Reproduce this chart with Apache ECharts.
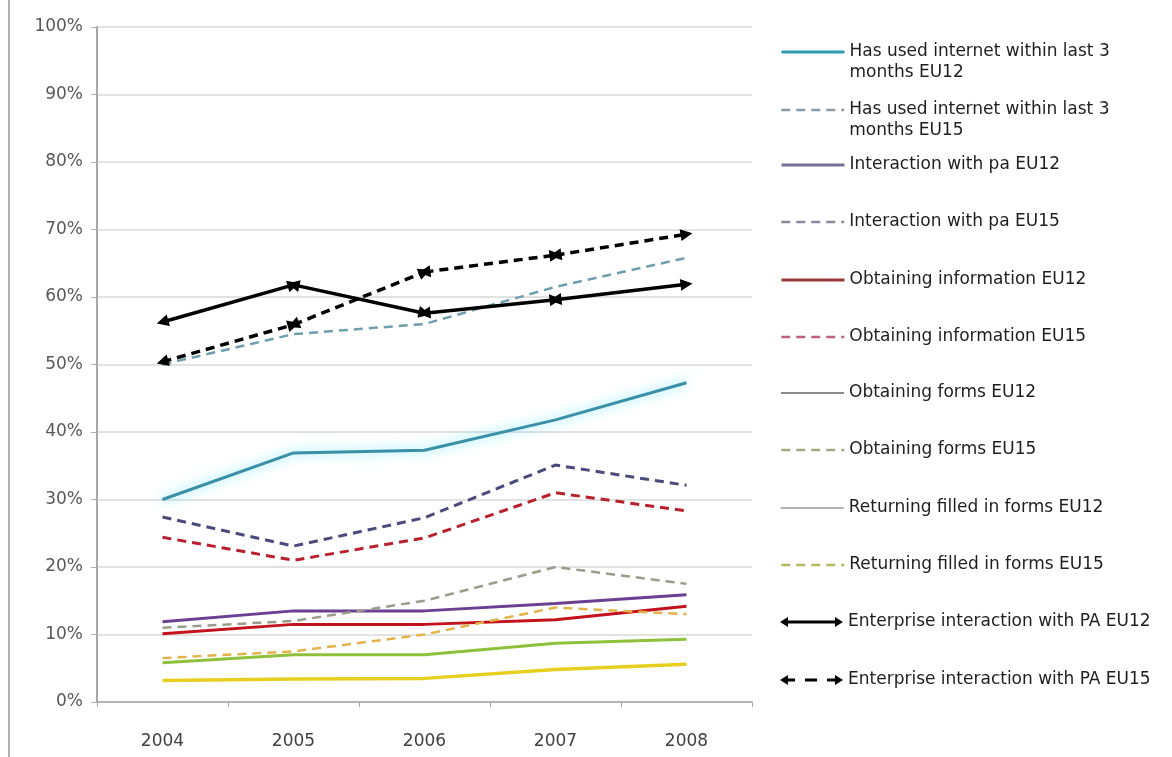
<!DOCTYPE html>
<html>
<head>
<meta charset="utf-8">
<script src="https://cdn.jsdelivr.net/npm/echarts@6/dist/echarts.min.js"></script>
<style>
  html, body { margin: 0; padding: 0; background: #fff; }
  #chart { width: 1172px; height: 757px; }
</style>
</head>
<body>
<div id="chart"></div>
<script>
// Categories and tick labels
const years = ['2004', '2005', '2006', '2007', '2008'];
const yTicks = [0, 10, 20, 30, 40, 50, 60, 70, 80, 90, 100];

// Shares of individuals / enterprises (%)
const internetEU12 = [30.0, 36.9, 37.3, 41.8, 47.3];
const internetEU15 = [50.0, 54.5, 56.0, 61.5, 65.8];
const paEU12 = [11.9, 13.5, 13.5, 14.6, 15.9];
const paEU15 = [27.4, 23.1, 27.3, 35.1, 32.1];
const infoEU12 = [10.1, 11.5, 11.5, 12.2, 14.2];
const infoEU15 = [24.4, 21.0, 24.3, 31.0, 28.3];
const formsEU12 = [5.8, 7.0, 7.0, 8.7, 9.3];
const formsEU15 = [11.0, 12.0, 15.0, 20.0, 17.5];
const returnEU12 = [3.2, 3.4, 3.5, 4.8, 5.6];
const returnEU15 = [6.5, 7.5, 10.0, 14.0, 13.0];
const enterpriseEU12 = [56.3, 61.8, 57.6, 59.6, 61.9];
const enterpriseEU15 = [50.4, 55.9, 63.7, 66.2, 69.3];

const names = [
  'Has used internet within last 3 months EU12',
  'Has used internet within last 3 months EU15',
  'Interaction with pa EU12',
  'Interaction with pa EU15',
  'Obtaining information EU12',
  'Obtaining information EU15',
  'Obtaining forms EU12',
  'Obtaining forms EU15',
  'Returning filled in forms EU12',
  'Returning filled in forms EU15',
  'Enterprise interaction with PA EU12',
  'Enterprise interaction with PA EU15'
];

const dash = [9, 6];

function lineSeries(name, data, color, type, width, glow) {
  const ls = { color: color, width: width, type: type };
  if (glow) { ls.shadowColor = glow; ls.shadowBlur = 12; }
  return {
    name: name, type: 'line', data: data, symbol: 'none',
    itemStyle: { color: color }, lineStyle: ls, z: 2
  };
}

// Each segment of the enterprise series carries an arrowhead at both ends
function arrowSeries(name, data, type) {
  const segs = [];
  for (let i = 0; i < data.length - 1; i++) {
    segs.push({ coords: [[years[i], data[i]], [years[i + 1], data[i + 1]]] });
  }
  return {
    name: name, type: 'lines', coordinateSystem: 'cartesian2d',
    data: segs, symbol: ['triangle', 'triangle'], symbolSize: 12,
    itemStyle: { color: '#000' },
    lineStyle: { color: '#000', width: 3.5, type: type, opacity: 1, curveness: 0 },
    z: 4
  };
}

const series = [
  lineSeries(names[0], internetEU12, '#3b8fa6', 'solid', 3, 'rgba(0,215,255,0.6)'),
  lineSeries(names[1], internetEU15, '#6f9fae', dash, 2.5),
  lineSeries(names[2], paEU12, '#6b3f92', 'solid', 3),
  lineSeries(names[3], paEU15, '#4b4a7c', dash, 3),
  lineSeries(names[4], infoEU12, '#c3121c', 'solid', 3),
  lineSeries(names[5], infoEU15, '#b8202c', dash, 3),
  lineSeries(names[6], formsEU12, '#8dc13a', 'solid', 3),
  lineSeries(names[7], formsEU15, '#9c9c8a', dash, 2.5),
  lineSeries(names[8], returnEU12, '#e6cf1e', 'solid', 3.5),
  lineSeries(names[9], returnEU15, '#e3b24a', dash, 2.5),
  arrowSeries(names[10], enterpriseEU12, 'solid'),
  arrowSeries(names[11], enterpriseEU15, dash)
];

// Legend: one row per series, rows placed down the right side
const legendRows = [52, 110, 165, 222, 280, 337, 393, 450, 508, 565, 622, 680];
const legendIconColors = ['#2e9bb0', '#8a9aa2', '#7a6e98', '#8a8a9c', '#9a3a3a', '#c0607a',
                          '#8c8c8c', '#a8a880', '#9a9a9a', '#b8b860', '#000', '#000'];
const legendIconWidths = [3, 2.5, 3, 2.5, 3, 2.5, 2, 2.5, 1.5, 2.5];
const arrowIconSolid = 'path://M0,5L8,0L8,3.4L55,3.4L55,0L63,5L55,10L55,6.6L8,6.6L8,10Z';
const arrowIconDashed = 'path://M0,5L8,0L8,3.4L15,3.4L15,6.6L8,6.6L8,10Z' +
  'M25,3.4L37,3.4L37,6.6L25,6.6Z' +
  'M47,3.4L55,3.4L55,0L63,5L55,10L55,6.6L47,6.6Z';

const legends = names.map((name, i) => {
  const twoLine = i < 2;
  const item = { name: name };
  if (i >= 10) {
    item.icon = i === 10 ? arrowIconSolid : arrowIconDashed;
    item.itemStyle = { color: '#000', borderWidth: 0 };
  } else {
    item.lineStyle = { color: legendIconColors[i], width: legendIconWidths[i] };
    item.itemStyle = { opacity: 0 };
  }
  return {
    data: [item],
    orient: 'vertical',
    left: 780,
    top: legendRows[i] - (twoLine ? 31.5 : 10.5),
    padding: 0,
    itemWidth: 63,
    itemHeight: i >= 10 ? 10 : 14,
    itemGap: 0,
    selectedMode: false,
    // wrapped names start with a blank line so the icon sits beside the first text line
    formatter: n => (n.indexOf('last 3 months') >= 0
      ? '\n' + n.replace('last 3 months', 'last 3\nmonths') : n),
    textStyle: {
      fontFamily: 'DejaVu Sans', fontSize: 17, color: '#1e1e1e', lineHeight: 21
    }
  };
});

const chart = echarts.init(document.getElementById('chart'), null, { renderer: 'canvas' });
chart.setOption({
  animation: false,
  backgroundColor: '#ffffff',
  grid: { left: 97, right: 420, top: 27, bottom: 55, containLabel: false },
  xAxis: {
    type: 'category', data: years, boundaryGap: true,
    axisLine: { show: true, lineStyle: { color: '#a6a6a6', width: 1.5 } },
    axisTick: { show: true, length: 5, lineStyle: { color: '#a6a6a6' } },
    axisLabel: { margin: 31, fontFamily: 'DejaVu Sans', fontSize: 17, color: '#404040' },
    splitLine: { show: false }
  },
  yAxis: {
    type: 'value', min: yTicks[0], max: yTicks[yTicks.length - 1], interval: 10,
    axisLine: { show: true, lineStyle: { color: '#a6a6a6', width: 2 } },
    axisTick: { show: true, length: 6, lineStyle: { color: '#b0b0b0' } },
    axisLabel: { margin: 14, fontFamily: 'DejaVu Sans', fontSize: 17, color: '#595959',
                 formatter: '{value}%' },
    splitLine: { show: true, lineStyle: { color: '#d9d9d9', width: 1.5 } }
  },
  legend: legends,
  series: series,
  graphic: [{
    type: 'line', shape: { x1: 9, y1: 0, x2: 9, y2: 757 },
    style: { stroke: '#b3b3b3', lineWidth: 2 }, silent: true
  }]
});
</script>
</body>
</html>
